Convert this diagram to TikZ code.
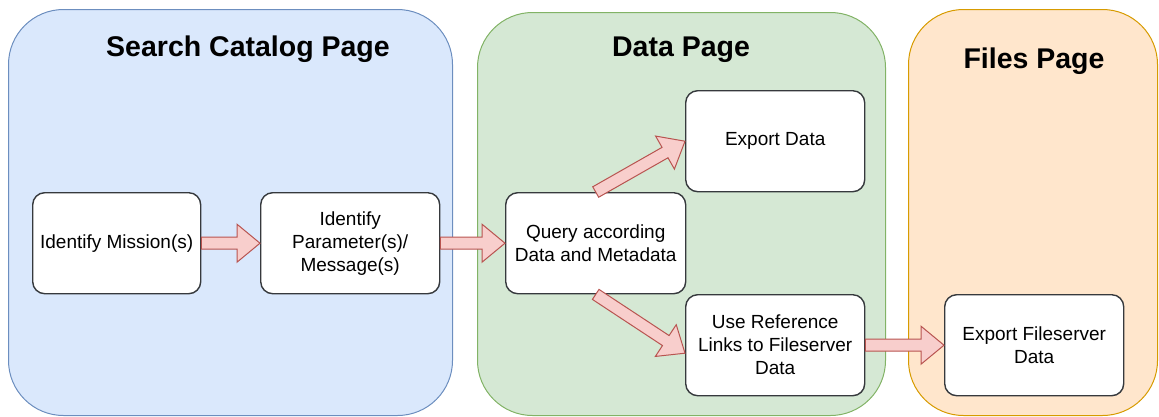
\documentclass[tikz,border=0pt]{standalone}
\usepackage{fontspec}
\setmainfont{Liberation Sans}
\usetikzlibrary{calc}

\definecolor{panelblue}{HTML}{DAE8FC}
\definecolor{edgeblue}{HTML}{6C8EBF}
\definecolor{panelgreen}{HTML}{D5E8D4}
\definecolor{edgegreen}{HTML}{82B366}
\definecolor{panelorange}{HTML}{FFE6CC}
\definecolor{edgeorange}{HTML}{D79B00}
\definecolor{arrowfill}{HTML}{F8CECC}
\definecolor{arrowedge}{HTML}{B85450}
\definecolor{boxedge}{HTML}{36393D}

% broad block arrow between two points: shaft, then a wide head
\newcommand\blockarrow[2]{%
  \filldraw[flexarrow]
    ($(#1)!6pt!90:(#2)$) --
    ($($(#2)!23pt!(#1)$)!6pt!90:(#2)$) --
    ($($(#2)!23pt!(#1)$)!19pt!90:(#2)$) --
    (#2) --
    ($($(#2)!23pt!(#1)$)!19pt!-90:(#2)$) --
    ($($(#2)!23pt!(#1)$)!6pt!-90:(#2)$) --
    ($(#1)!6pt!-90:(#2)$) -- cycle;}

\begin{document}
\begin{tikzpicture}[x=1pt,y=-1pt,
  panel/.style={anchor=north west, inner sep=0pt, rounded corners=55pt, line width=1pt},
  stepbox/.style={anchor=north west, draw=boxedge, fill=white, line width=1.4pt,
    rounded corners=12pt, minimum width=179pt, minimum height=101pt, inner sep=0pt,
    align=center, font=\fontsize{19}{23}\selectfont, text=black},
  heading/.style={anchor=base, font=\fontsize{28.5}{34}\selectfont\bfseries, text=black},
  flexarrow/.style={fill=arrowfill, draw=arrowedge, line width=1pt, line join=miter}]

\useasboundingbox (0,0) rectangle (1159,416);

% page panels
\node[panel, draw=edgeblue, fill=panelblue, minimum width=444pt, minimum height=406pt] (search) at (8,9) {};
\node[panel, draw=edgegreen, fill=panelgreen, minimum width=408pt, minimum height=403pt] (data) at (477,12) {};
\node[panel, draw=edgeorange, fill=panelorange, minimum width=249pt, minimum height=406pt] (files) at (908,9) {};

\node[heading] (searchtitle) at (248,56) {Search Catalog Page};
\node[heading] (datatitle) at (681,56) {Data Page};
\node[heading] (filestitle) at (1034,68) {Files Page};

% process steps
\node[stepbox, minimum width=168pt] (mission) at (32,192) {Identify Mission(s)};
\node[stepbox] (param) at (260,192) {Identify\\Parameter(s)/\\Message(s)};
\node[stepbox, minimum width=180pt] (query) at (505,192) {Query according\\Data and Metadata};
\node[stepbox] (export) at (685,90) {Export Data};
\node[stepbox] (links) at (685,294) {Use Reference\\Links to Fileserver\\Data};
\node[stepbox] (fileserver) at (944,294) {Export Fileserver\\Data};

\coordinate (linksin) at ($(links.west)+(0,8)$);

% flow between steps
\blockarrow{mission.east}{param.west}
\blockarrow{param.east}{query.west}
\blockarrow{query.north}{export.west}
\blockarrow{query.south}{linksin}
\blockarrow{links.east}{fileserver.west}
\end{tikzpicture}
\end{document}
